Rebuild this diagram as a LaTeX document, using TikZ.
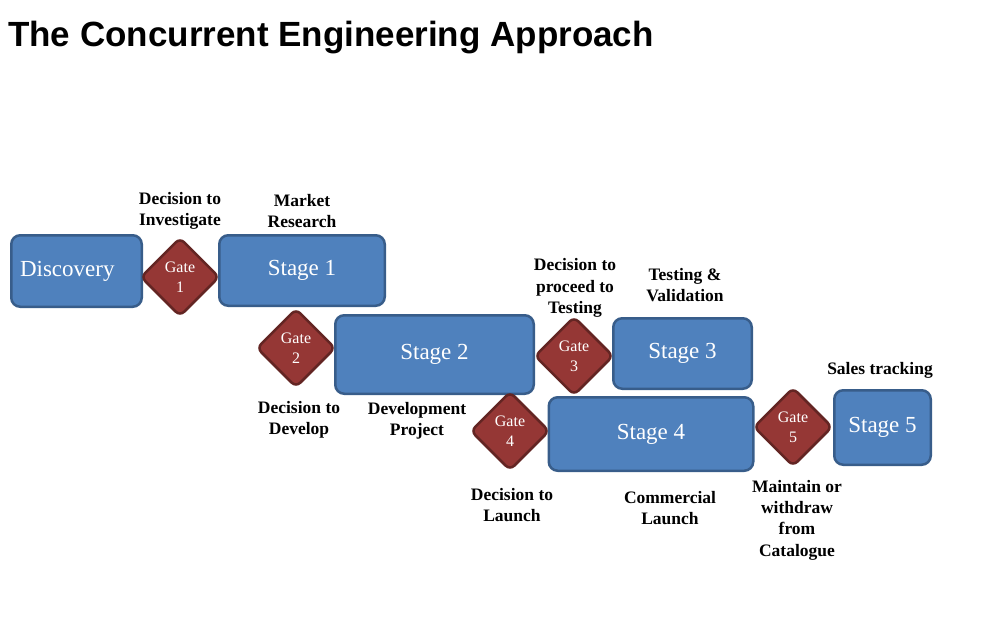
\documentclass[tikz,border=0pt]{standalone}
\usepackage{fontspec}
\setmainfont{Liberation Serif}
\newfontfamily\titlefont{Liberation Sans}
\usepackage{xcolor}
\usetikzlibrary{shapes.geometric}

\definecolor{stagefill}{HTML}{4F81BD}
\definecolor{stageline}{HTML}{385D8A}
\definecolor{gatefill}{HTML}{953735}
\definecolor{gateline}{HTML}{632523}

\begin{document}
\begin{tikzpicture}[x=1pt,y=-1pt,
  stg/.style={draw=stageline, fill=stagefill, line width=2.5pt, rounded corners=9pt, text=white, font=\fontsize{23}{27}\selectfont, inner sep=0pt},
  gt/.style={diamond, aspect=1, draw=gateline, fill=gatefill, line width=2.5pt, rounded corners=6pt, text=white, align=center, font=\fontsize{16}{20}\selectfont, minimum width=79pt, minimum height=79pt, inner sep=0pt},
  lbl/.style={align=center, font=\bfseries\fontsize{17.5}{21.3}\selectfont, inner sep=0pt},
]
\useasboundingbox (0,0) rectangle (984,616);
% title
\node[anchor=base west, inner sep=0pt, font=\titlefont\bfseries\fontsize{35}{40}\selectfont] (title) at (8,46) {The Concurrent Engineering Approach};
% stages
\node[stg, minimum width=130.5pt, minimum height=71.5pt, inner xsep=8.75pt, text width=113pt, align=left] (disc) at (76.5,271) {Discovery};
\node[stg, minimum width=165.5pt, minimum height=70.5pt] (s1) at (302,270.5) {Stage 1};
\node[stg, minimum width=198.5pt, minimum height=78.5pt] (s2) at (434.5,354.5) {Stage 2};
\node[stg, minimum width=138.5pt, minimum height=70.5pt] (s3) at (682.5,353.5) {Stage 3};
\node[stg, minimum width=204.5pt, minimum height=73.5pt] (s4) at (651,434) {Stage 4};
\node[stg, minimum width=96.5pt, minimum height=74.5pt] (s5) at (882.5,427.5) {Stage 5};
% gates
\node[gt] (g1) at (180,277) {Gate\\1};
\node[gt] (g2) at (296,348) {Gate\\2};
\node[gt] (g3) at (574,356) {Gate\\3};
\node[gt] (g4) at (510,431) {Gate\\4};
\node[gt] (g5) at (793,427) {Gate\\5};
% labels
\node[lbl] (l1) at (180,211) {Decision to\\Investigate};
\node[lbl] (l2) at (302,211) {Market\\Research};
\node[lbl] (l3) at (299,420) {Decision to\\Develop};
\node[lbl] (l4) at (417,421) {Development\\Project};
\node[lbl] (l5) at (575,288) {Decision to\\proceed to\\Testing};
\node[lbl] (l6) at (685,285) {Testing \&\\Validation};
\node[lbl] (l7) at (880,370) {Sales tracking};
\node[lbl] (l8) at (512,505) {Decision to\\Launch};
\node[lbl] (l9) at (670,508) {Commercial\\Launch};
\node[lbl] (l10) at (797,520) {Maintain or\\withdraw\\from\\Catalogue};
\end{tikzpicture}
\end{document}
